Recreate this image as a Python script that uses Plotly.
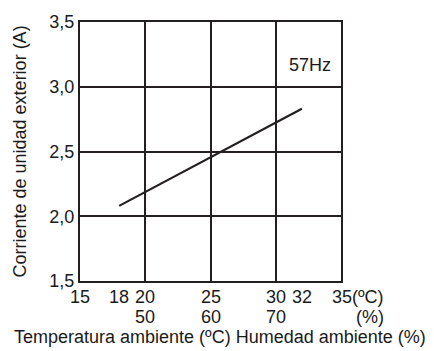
import plotly.graph_objects as go

# Data
temp_c = [18, 32]
current_a = [2.08, 2.83]

x_grid = [15, 20, 25, 30, 35]
y_ticks = [1.5, 2.0, 2.5, 3.0, 3.5]
y_ticktext = ["1,5", "2,0", "2,5", "3,0", "3,5"]

temp_labels_x = [15, 18, 20, 25, 30, 32]
temp_labels = ["15", "18", "20", "25", "30", "32"]
hum_labels_x = [20, 25, 30]
hum_labels = ["50", "60", "70"]

INK = "#231f20"
FONT = dict(family="Liberation Sans, Arial, sans-serif", size=18, color="#1a1a1a")

fig = go.Figure()
fig.add_trace(go.Scatter(x=temp_c, y=current_a, mode="lines",
                         line=dict(color=INK, width=2.2), showlegend=False,
                         hoverinfo="skip"))

ann = []
for xv, t in zip(temp_labels_x, temp_labels):
    ann.append(dict(x=xv, y=0, xref="x", yref="paper", text=t, showarrow=False,
                    xanchor="center", yanchor="middle", yshift=-16, font=FONT))
ann.append(dict(x=35, y=0, xref="x", yref="paper", text="35(ºC)", showarrow=False,
                xanchor="left", yanchor="middle", yshift=-16, xshift=-11, font=FONT))
for xv, t in zip(hum_labels_x, hum_labels):
    ann.append(dict(x=xv, y=0, xref="x", yref="paper", text=t, showarrow=False,
                    xanchor="center", yanchor="middle", yshift=-36, font=FONT))
ann.append(dict(x=35, y=0, xref="x", yref="paper", text="(%)", showarrow=False,
                xanchor="center", yanchor="middle", yshift=-36, xshift=29, font=FONT))
ann.append(dict(x=(220 - 80) / 261, y=0, xref="paper", yref="paper",
                text="Temperatura ambiente (ºC) Humedad ambiente (%)", showarrow=False,
                xanchor="center", yanchor="middle", yshift=-56, font=FONT))
ann.append(dict(x=0, y=0.5, xref="paper", yref="paper",
                text="Corriente de unidad exterior (A)", showarrow=False, textangle=-90,
                xanchor="center", yanchor="middle", xshift=-61, font=FONT))
ann.append(dict(x=32.6, y=3.17, xref="x", yref="y", text="57Hz", showarrow=False,
                xanchor="center", yanchor="middle", font=FONT))

fig.update_layout(
    width=434, height=351,
    margin=dict(l=80, r=93, t=20, b=70),
    paper_bgcolor="white", plot_bgcolor="white",
    font=FONT,
    xaxis=dict(range=[15, 35], tickvals=x_grid, showticklabels=False,
               showgrid=True, gridcolor=INK, gridwidth=2, zeroline=False,
               showline=True, linecolor=INK, linewidth=2, mirror=True, fixedrange=True),
    yaxis=dict(range=[1.5, 3.5], tickvals=y_ticks, ticktext=y_ticktext,
               showgrid=True, gridcolor=INK, gridwidth=2, zeroline=False,
               showline=True, linecolor=INK, linewidth=2, mirror=True,
               ticks="", tickfont=FONT, fixedrange=True),
    annotations=ann,
    showlegend=False,
)

fig.write_html("out.html", config={"displayModeBar": False})
